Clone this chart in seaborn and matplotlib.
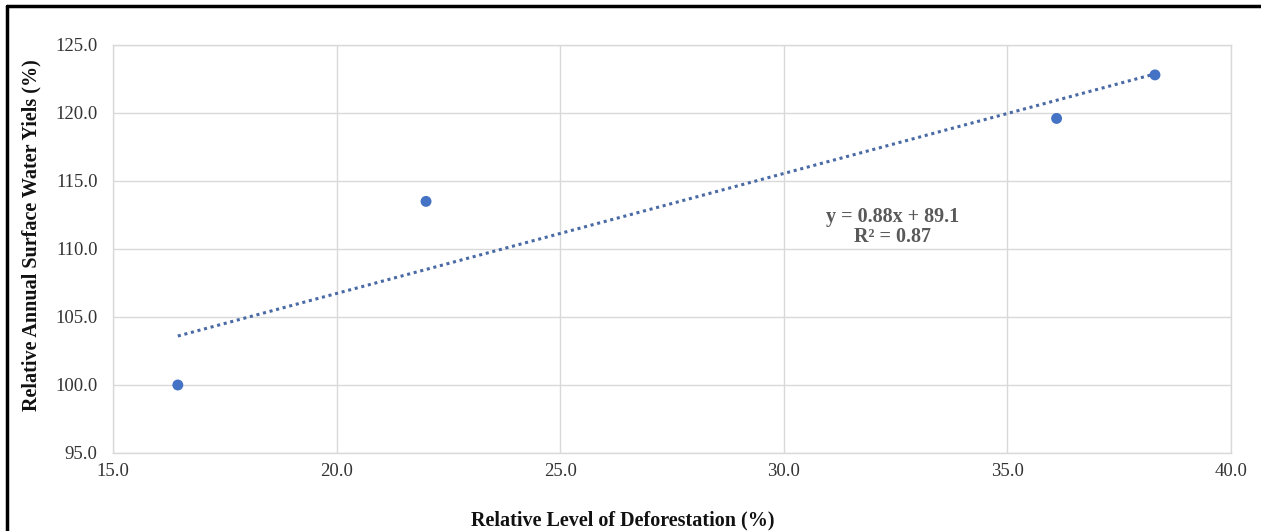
import numpy as np
import pandas as pd
import seaborn as sns
import matplotlib.pyplot as plt
from matplotlib.lines import Line2D

# Data
deforestation = [16.45, 22.0, 36.1, 38.3]
water_yield = [100.0, 113.5, 119.6, 122.8]
x_ticks = [15, 20, 25, 30, 35, 40]
y_ticks = [95, 100, 105, 110, 115, 120, 125]

df = pd.DataFrame({'deforestation': deforestation, 'water_yield': water_yield})

sns.set_style('whitegrid')
plt.rcParams['font.family'] = ['Liberation Serif', 'DejaVu Serif']

fig = plt.figure(figsize=(12.61, 5.31), dpi=100)
ax = fig.add_axes([0.0896, 0.1469, 0.8866, 0.7684])

# Linear trendline (dotted), fitted over the data range
sns.regplot(data=df, x='deforestation', y='water_yield', ax=ax, ci=None, scatter=False,
            color='#4a6aa5', line_kws=dict(lw=2.2, ls=(0, (1, 1.22))))

sns.scatterplot(data=df, x='deforestation', y='water_yield', ax=ax, color='#4472C4',
                s=62, edgecolor='none', zorder=3)

slope, intercept = np.polyfit(deforestation, water_yield, 1)
r2 = np.corrcoef(deforestation, water_yield)[0, 1] ** 2
ax.text(0.697, 0.554, f'y = {slope:.2f}x + {intercept:.1f}\nR\u00b2 = {r2:.2f}',
        transform=ax.transAxes, ha='center', va='center', fontsize=14.5,
        fontweight='bold', color='#595959', linespacing=1.05)

ax.set_xlim(15, 40)
ax.set_ylim(95, 125)
ax.set_xticks(x_ticks)
ax.set_yticks(y_ticks)
ax.set_xticklabels([f'{v:.1f}' for v in x_ticks])
ax.set_yticklabels([f'{v:.1f}' for v in y_ticks])
ax.tick_params(axis='x', labelsize=13.5, colors='#333333', pad=7, length=0)
ax.tick_params(axis='y', labelsize=13.5, colors='#333333', pad=11, length=0)
ax.grid(color='#d9d9d9', lw=1)
for sp in ax.spines.values():
    sp.set_color('#d9d9d9')
    sp.set_linewidth(1)

ax.set_xlabel('Relative Level of Deforestation (%)', fontsize=14.5, fontweight='bold', color='#111111')
ax.set_ylabel('Relative Annual Surface Water Yiels (%)', fontsize=14.5, fontweight='bold', color='#111111')
ax.xaxis.set_label_coords(0.456, -0.14)
ax.yaxis.set_label_coords(-0.064, 0.534)

# Black frame lines on top and left edges
fig.add_artist(Line2D([0.0055, 1.0], [0.988, 0.988], transform=fig.transFigure, color='black', lw=2.5))
fig.add_artist(Line2D([0.0055, 0.0055], [0.0, 0.988], transform=fig.transFigure, color='black', lw=2.5))

fig.savefig('out.png', dpi=100)
